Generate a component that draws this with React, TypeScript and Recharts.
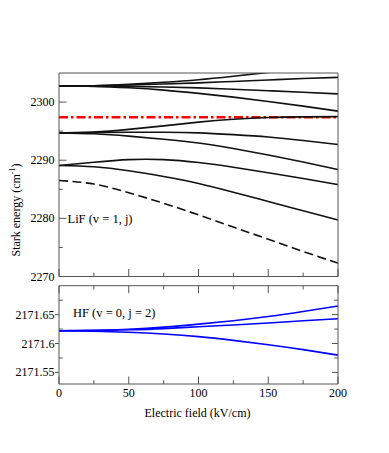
import React from 'react';
import { LineChart, Line, XAxis, YAxis, ReferenceLine } from 'recharts';

// ---------- data ----------
const fieldKVcm = [0, 25, 50, 75, 100, 125, 150, 175, 200];

// LiF (v = 1, j) Stark levels, cm^-1
const lifJ0 = [2286.5, 2285.9, 2284.4, 2282.6, 2280.6, 2278.5, 2276.4, 2274.3, 2272.3];
const lifJ1a = [2289.1, 2289.65, 2290.1, 2290.1, 2289.6, 2288.8, 2287.85, 2286.85, 2285.8];
const lifJ1b = [2289.1, 2288.88, 2288.2, 2287.2, 2286.0, 2284.5, 2282.9, 2281.3, 2279.7];
const lifJ2a = [2294.7, 2294.85, 2295.3, 2295.9, 2296.55, 2297.05, 2297.35, 2297.45, 2297.5];
const lifJ2b = [2294.7, 2294.75, 2294.8, 2294.8, 2294.7, 2294.4, 2294.0, 2293.4, 2292.7];
const lifJ2c = [2294.7, 2294.55, 2294.15, 2293.6, 2292.95, 2292.0, 2290.9, 2289.7, 2288.4];
const lifJ3a = [2302.76, 2302.8, 2303.05, 2303.4, 2303.85, 2304.45, 2305.1, 2305.8, 2306.5];
const lifJ3b = [2302.76, 2302.8, 2302.95, 2303.1, 2303.3, 2303.55, 2303.8, 2304.05, 2304.25];
const lifJ3c = [2302.76, 2302.74, 2302.7, 2302.6, 2302.45, 2302.2, 2301.95, 2301.7, 2301.4];
const lifJ3d = [2302.76, 2302.7, 2302.45, 2302.05, 2301.5, 2300.85, 2300.1, 2299.3, 2298.45];
const lifReferenceLevel = 2297.4;

// HF (v = 0, j = 2) Stark levels, cm^-1
const hfUpper = [2171.622, 2171.6227, 2171.6247, 2171.6283, 2171.6335, 2171.6395, 2171.6466, 2171.6553, 2171.665];
const hfMiddle = [2171.622, 2171.6225, 2171.6237, 2171.6258, 2171.629, 2171.632, 2171.6355, 2171.6395, 2171.643];
const hfLower = [2171.622, 2171.6213, 2171.6195, 2171.6165, 2171.612, 2171.6055, 2171.598, 2171.5895, 2171.58];

// ticks
const xTicks = [0, 25, 50, 75, 100, 125, 150, 175, 200];
const xMajor = [0, 50, 100, 150, 200];
const lifYTicks = [2270, 2275, 2280, 2285, 2290, 2295, 2300];
const lifYMajor = [2270, 2280, 2290, 2300];
const hfYTicks = [2171.55, 2171.575, 2171.6, 2171.625, 2171.65, 2171.675];
const hfYMajor = [2171.55, 2171.6, 2171.65];
const hfYLabels = ['2171.55', '2171.6', '2171.65'];

// ---------- tables ----------
const lifKeys = ['j0', 'j1a', 'j1b', 'j2a', 'j2b', 'j2c', 'j3a', 'j3b', 'j3c', 'j3d'];
const lifValues = [lifJ0, lifJ1a, lifJ1b, lifJ2a, lifJ2b, lifJ2c, lifJ3a, lifJ3b, lifJ3c, lifJ3d];
const lifData = fieldKVcm.map((x, i) => {
  const row: any = { x };
  lifKeys.forEach((k, s) => (row[k] = lifValues[s][i]));
  return row;
});
const hfKeys = ['up', 'mid', 'low'];
const hfValues = [hfUpper, hfMiddle, hfLower];
const hfData = fieldKVcm.map((x, i) => {
  const row: any = { x };
  hfKeys.forEach((k, s) => (row[k] = hfValues[s][i]));
  return row;
});

// ---------- style ----------
const FONT = '"Liberation Serif", "Times New Roman", serif';
const FRAME = '#555';
const MAJ = 7.5;
const MIN = 3.8;
const near = (arr: number[], v: number) => arr.findIndex((m) => Math.abs(m - v) < 1e-6);

const LeftTick = (props: any) => {
  const { x, y, payload, majors, labels, outward } = props;
  const idx = near(majors, payload.value);
  const major = idx >= 0;
  const x1 = major && outward ? x - 4 : x;
  const x2 = major && outward ? x : x + (major ? MAJ : MIN);
  return (
    <g>
      <line x1={x1} x2={x2} y1={y} y2={y} stroke={FRAME} strokeWidth={1} />
      {major && (
        <text x={x - 4.5} y={y} dy={4} textAnchor="end" fontSize={12} fontFamily={FONT} fill="#000">
          {labels ? labels[idx] : String(payload.value)}
        </text>
      )}
    </g>
  );
};

const RightTick = (props: any) => {
  const { x, y, payload, majors } = props;
  const major = near(majors, payload.value) >= 0;
  return <line x1={x} x2={x - (major ? 6 : MIN)} y1={y} y2={y} stroke={FRAME} strokeWidth={1} />;
};

const BottomTick = (props: any) => {
  const { x, y, payload, showLabels } = props;
  const major = near(xMajor, payload.value) >= 0;
  return (
    <g>
      <line x1={x} x2={x} y1={y} y2={y - (major ? MAJ : MIN)} stroke={FRAME} strokeWidth={1} />
      {showLabels && major && (
        <text x={x} y={y + 13.3} textAnchor="middle" fontSize={12} fontFamily={FONT} fill="#000">
          {String(payload.value)}
        </text>
      )}
    </g>
  );
};

const TopTick = (props: any) => {
  const { x, y, payload } = props;
  const major = near(xMajor, payload.value) >= 0;
  return <line x1={x} x2={x} y1={y} y2={y + (major ? MAJ : MIN)} stroke={FRAME} strokeWidth={1} />;
};

const lineStyle = { stroke: '#111', strokeWidth: 1.6 };

export default function App() {
  return (
    <div style={{ position: 'absolute', left: 0, top: 0, width: 389, height: 453, background: '#fff', fontFamily: FONT }}>
      {/* Top panel: LiF */}
      <div style={{ position: 'absolute', left: 0, top: 0 }}>
        <LineChart width={389} height={282} data={lifData} margin={{ top: 72, right: 50, bottom: 4.5, left: 0 }}>
          <XAxis
            dataKey="x"
            type="number"
            domain={[0, 200]}
            ticks={xTicks}
            interval={0}
            height={1}
            tickSize={0}
            tickMargin={0}
            tickLine={false}
            axisLine={{ stroke: FRAME, strokeWidth: 1 }}
            tick={(p: any) => <BottomTick {...p} showLabels={false} />}
          />
          <XAxis
            xAxisId="top"
            orientation="top"
            dataKey="x"
            type="number"
            domain={[0, 200]}
            height={1}
            tick={false}
            tickLine={false}
            axisLine={{ stroke: FRAME, strokeWidth: 1 }}
          />
          <YAxis
            type="number"
            domain={[2270, 2305]}
            allowDataOverflow
            ticks={lifYTicks}
            interval={0}
            width={59}
            tickSize={0}
            tickMargin={0}
            tickLine={false}
            axisLine={{ stroke: FRAME, strokeWidth: 1 }}
            tick={(p: any) => <LeftTick {...p} majors={lifYMajor} outward={false} />}
          />
          <YAxis
            yAxisId="right"
            orientation="right"
            type="number"
            domain={[2270, 2305]}
            allowDataOverflow
            width={1}
            tick={false}
            tickLine={false}
            axisLine={{ stroke: FRAME, strokeWidth: 1 }}
          />
          <ReferenceLine y={lifReferenceLevel} stroke="#ff0000" strokeWidth={2.6} strokeDasharray="9 3 2.5 3" />
          {lifKeys.map((k) => (
            <Line
              key={k}
              dataKey={k}
              type="natural"
              dot={false}
              isAnimationActive={false}
              {...lineStyle}
              strokeDasharray={k === 'j0' ? '9 4.5' : undefined}
            />
          ))}
        </LineChart>
      </div>

      {/* Bottom panel: HF */}
      <div style={{ position: 'absolute', left: 0, top: 282 }}>
        <LineChart width={389} height={171} data={hfData} margin={{ top: 2.7, right: 50, bottom: 68, left: 0 }}>
          <XAxis
            dataKey="x"
            type="number"
            domain={[0, 200]}
            ticks={xTicks}
            interval={0}
            height={1}
            tickSize={0}
            tickMargin={0}
            tickLine={false}
            axisLine={{ stroke: FRAME, strokeWidth: 1 }}
            tick={(p: any) => <BottomTick {...p} showLabels={true} />}
          />
          <XAxis
            xAxisId="top"
            orientation="top"
            dataKey="x"
            type="number"
            domain={[0, 200]}
            ticks={xTicks}
            interval={0}
            height={1}
            tickSize={0}
            tickMargin={0}
            tickLine={false}
            axisLine={{ stroke: FRAME, strokeWidth: 1 }}
            tick={(p: any) => <TopTick {...p} />}
          />
          <YAxis
            type="number"
            domain={[2171.53, 2171.7]}
            allowDataOverflow
            ticks={hfYTicks}
            interval={0}
            width={59}
            tickSize={0}
            tickMargin={0}
            tickLine={false}
            axisLine={{ stroke: FRAME, strokeWidth: 1 }}
            tick={(p: any) => <LeftTick {...p} majors={hfYMajor} labels={hfYLabels} outward={true} />}
          />
          <YAxis
            yAxisId="right"
            orientation="right"
            type="number"
            domain={[2171.53, 2171.7]}
            allowDataOverflow
            ticks={hfYTicks}
            interval={0}
            width={1}
            tickSize={0}
            tickMargin={0}
            tickLine={false}
            axisLine={{ stroke: FRAME, strokeWidth: 1 }}
            tick={(p: any) => <RightTick {...p} majors={hfYMajor} />}
          />
          {hfKeys.map((k) => (
            <Line key={k} dataKey={k} type="natural" dot={false} isAnimationActive={false} stroke="#0000ff" strokeWidth={1.6} />
          ))}
        </LineChart>
      </div>

      {/* texts */}
      <div
        style={{
          position: 'absolute',
          left: 16,
          top: 210,
          transform: 'translate(-50%, -50%) rotate(-90deg)',
          whiteSpace: 'nowrap',
          fontSize: 12,
          lineHeight: 1,
        }}
      >
        Stark energy (cm<sup style={{ fontSize: 8, lineHeight: 0 }}>-1</sup>)
      </div>
      <div
        style={{
          position: 'absolute',
          left: 197.5,
          top: 413.3,
          transform: 'translate(-50%, -50%)',
          whiteSpace: 'nowrap',
          fontSize: 12,
          lineHeight: 1,
        }}
      >
        Electric field (kV/cm)
      </div>
      <div style={{ position: 'absolute', left: 67.5, top: 219, transform: 'translateY(-50%)', whiteSpace: 'nowrap', fontSize: 12.5, lineHeight: 1 }}>
        LiF (v = 1, j)
      </div>
      <div style={{ position: 'absolute', left: 73, top: 313.3, transform: 'translateY(-50%)', whiteSpace: 'nowrap', fontSize: 12.5, lineHeight: 1 }}>
        HF (v = 0, j = 2)
      </div>
    </div>
  );
}
